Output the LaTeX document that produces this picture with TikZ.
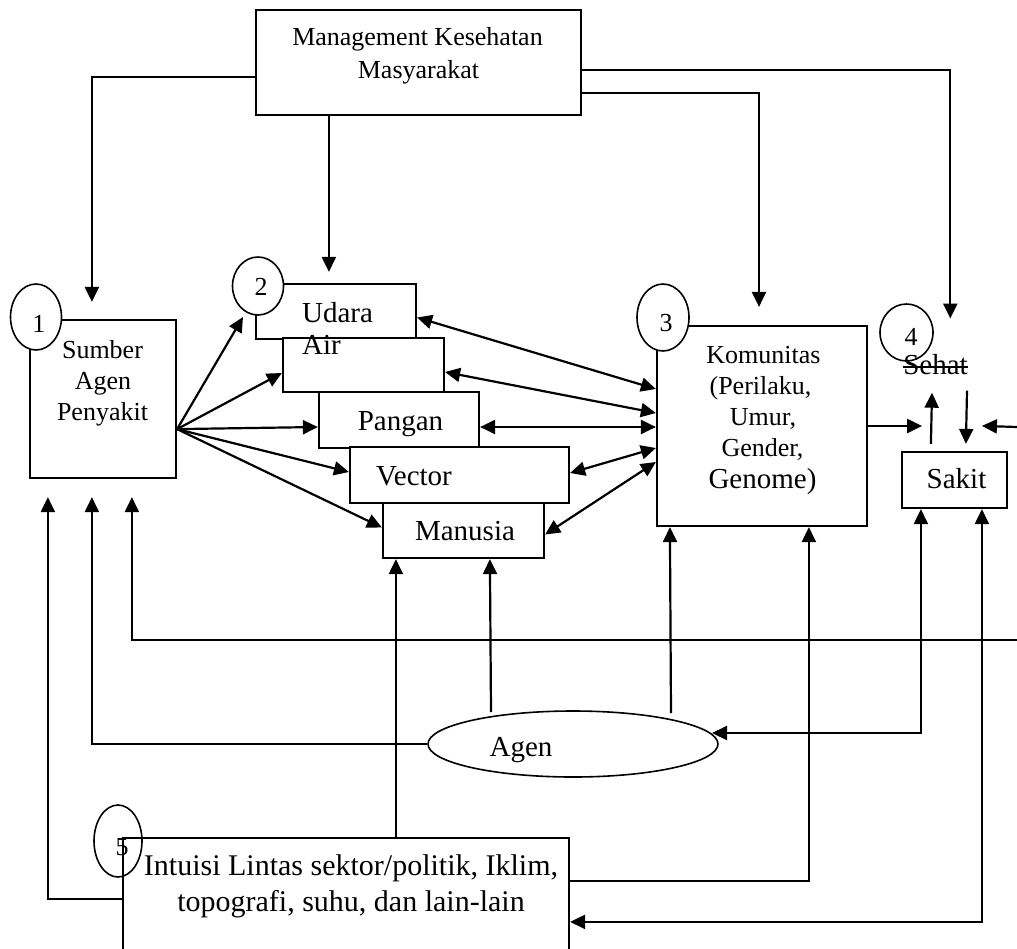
\documentclass[tikz,border=0pt]{standalone}
\usepackage{fontspec}
\setmainfont{Liberation Serif}
\usetikzlibrary{arrows.meta,calc,fit,shapes.geometric}
\tikzset{
 box/.style={draw, line width=1.1pt, fill=white, inner sep=0pt, rectangle},
 circ/.style={draw, ellipse, line width=0.8pt, inner sep=0pt},
 lbl/.style={inner sep=0pt, anchor=base, font=\fontsize{13}{15}\selectfont},
 lblb/.style={inner sep=0pt, anchor=base, font=\fontsize{14.5}{17}\selectfont},
 lblc/.style={inner sep=0pt, anchor=base, font=\fontsize{15}{17}\selectfont},
 con/.style={line width=1.1pt},
 arr/.style={con, -{Triangle[length=7.5pt,width=7pt]}},
 darr/.style={con, {Triangle[length=7.5pt,width=7pt]}-{Triangle[length=7.5pt,width=7pt]}},
}
\begin{document}
\begin{tikzpicture}[x=0.5pt,y=-0.5pt]
\clip (0,0) rectangle (1017,948);
\fill[white] (0,0) rectangle (1017,948);

% boxes
\node[box, fit={(256,10) (581,115)}] (mgmt) {};
\node[lbl] (mgmtA) at (417.5,45) {Management Kesehatan};
\node[lbl] (mgmtB) at (418.5,78) {Masyarakat};

\node[box, fit={(30,320) (176,478)}] (sumber) {};
\node[lbl] (sumA) at (102.5,358) {Sumber};
\node[lbl] (sumB) at (103,389) {Agen};
\node[lbl] (sumC) at (102.5,420) {Penyakit};

\node[box, fit={(256,284) (416,339)}] (udara) {};
\node[lblb] (udaraT) at (337.5,322) {Udara};
\node[box, fit={(283,338) (444,392)}] (air) {};
\node[lblb] (airT) at (321.5,354) {Air};
\node[box, fit={(319,392) (479,448)}] (pangan) {};
\node[lblb] (panganT) at (400.5,430) {Pangan};
\node[box, fit={(350,447) (569,503)}] (vector) {};
\node[lblb] (vectorT) at (414,485) {Vector};
\node[box, fit={(383,503) (544,558)}] (manusia) {};
\node[lblb] (manusiaT) at (465,540) {Manusia};

\node[box, fit={(657,326) (867,526)}] (kom) {};
\node[lbl] (komA) at (763.5,363) {Komunitas};
\node[lbl] (komB) at (760.5,394) {(Perilaku,};
\node[lbl] (komC) at (763,425) {Umur,};
\node[lbl] (komD) at (762.5,456) {Gender,};
\node[lblb] (komE) at (762.5,488) {Genome)};

\node[box, fit={(902,452) (1007,508)}] (sakit) {};
\node[lblb] (sakitT) at (956.5,488) {Sakit};
\node[lblb] (sehat) at (935.5,374) {Sehat};
\draw[line width=0.8pt] ($(sehat.base west)+(0,-7)$) -- ($(sehat.base east)+(0,-7)$);

% circle 5 (unfilled, under the box lines)
\node[circ, minimum width=24pt, minimum height=36pt] (c5) at (118,841) {};
\node[box, fill=none, fit={(123,838) (569,970)}] (intuisi) {};
\node[lbl] (n5) at (122,855) {5};
\node[lblc] (intA) at (351,875) {Intuisi Lintas sektor/politik, Iklim,};
\node[lblc] (intB) at (351,911) {topografi, suhu, dan lain-lain};

\node[circ, minimum width=145pt, minimum height=33pt] (agen) at (573,744) {};
\node[lblb] (agenT) at (521,756) {Agen};

% numbered circles
\node[circ, fill=white, minimum width=25.5pt, minimum height=33pt] (c1) at (36,317) {};
\node[lbl] (n1) at (39,332) {1};
\node[circ, fill=white, minimum width=25.5pt, minimum height=29pt] (c2) at (258,286) {};
\node[lbl] (n2) at (261,295) {2};
\node[circ, fill=white, minimum width=26pt, minimum height=33.5pt] (c3) at (663,317.5) {};
\node[lbl] (n3) at (666,331) {3};
\node[circ, minimum width=26.5pt, minimum height=28.5pt] (c4) at (906.5,332.5) {};
\node[lbl] (n4) at (911,345) {4};

% management connectors
\draw[arr] ($(mgmt.west)+(0,14.5)$) -| ($(sumber.north west)+(63,-17)$);
\draw[arr] ($(mgmt.south west)+(74,0)$) -- ($(udara.north west)+(74,-11)$);
\draw[arr] ($(mgmt.east)+(0,7.5)$) -| ($(c4.east)+(16.5,-14)$);
\draw[arr] ($(mgmt.east)+(0,30.5)$) -| ($(kom.north)+(-3,-18)$);

% sumber fan
\coordinate (sout) at ($(sumber.south east)+(0,-50)$);
\draw[arr] (sout) -- ($(c2.center)+(-15,31)$);
\draw[arr] (sout) -- ($(air.west)+(0,8)$);
\draw[arr] (sout) -- ($(pangan.west)+(0,7)$);
\draw[arr] (sout) -- ($(vector.west)+(0,-3)$);
\draw[arr] (sout) -- ($(manusia.west)+(0,-3)$);

% double arrows to komunitas
\draw[darr] ($(udara.east)+(0,6)$) -- ($(kom.west)+(0,-37)$);
\draw[darr] ($(air.east)+(0,7)$) -- ($(kom.west)+(0,-13)$);
\draw[darr] ($(pangan.east)+(0,7)$) -- ($(kom.west)+(0,1)$);
\draw[darr] ($(vector.east)+(0,-2)$) -- ($(kom.west)+(0,22)$);
\draw[darr] ($(manusia.east)+(0,4)$) -- ($(kom.west)+(0,36)$);

% sehat / sakit
\draw[arr] (kom.east) -- ($(kom.east)+(54,0)$);
\draw[arr] ($(sakit.north west)+(30,-7)$) -- ($(sehat.south)+(-3.5,18)$);
\draw[arr] ($(sehat.south)+(31.5,16)$) -- ($(sakit.north west)+(65,-7)$);
\coordinate (edgeS) at (1017,427);
\draw[arr] (edgeS) -- ($(sakit.north west)+(81,-25)$);

% bottom connectors
\draw[arr] ($(agen.center)+(-82,-32)$) -- ($(manusia.south west)+(108,0)$);
\draw[arr] ($(agen.center)+(98,-31)$) -- ($(kom.south west)+(14,0)$);
\draw[arr] (agen.west) -| ($(sumber.south west)+(63,18)$);
\draw[darr] ($(sakit.south west)+(20,0)$) |- ($(agen.center)+(139,-11)$);
\draw[darr] ($(sakit.south west)+(81,0)$) |- ($(intuisi.north east)+(0,85)$);
\draw[arr] ($(intuisi.north east)+(0,44)$) -| ($(kom.south west)+(153,0)$);
\draw[arr] ($(intuisi.north west)+(274,0)$) -- ($(manusia.south west)+(14,0)$);
\draw[arr] ($(intuisi.north west)+(0,62)$) -| ($(sumber.south west)+(19,18)$);
\coordinate (edgeA) at (1017,640);
\draw[arr] (edgeA) -| ($(sumber.south west)+(103,18)$);
\end{tikzpicture}
\end{document}
